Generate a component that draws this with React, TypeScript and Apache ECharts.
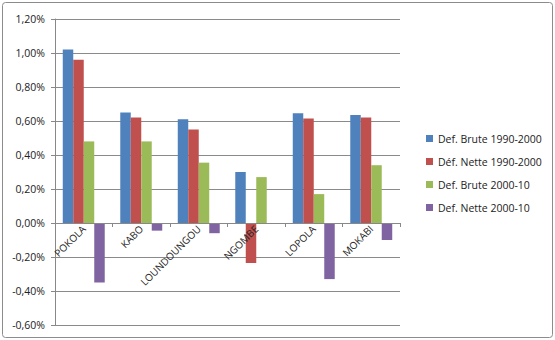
import React, { useEffect, useRef } from "react";
import * as echarts from "echarts";

const categories = ["POKOLA", "KABO", "LOUNDOUNGOU", "NGOMBE", "LOPOLA", "MOKABI"];
const seriesNames = ["Def. Brute 1990-2000", "Déf. Nette 1990-2000", "Def. Brute 2000-10", "Def. Nette 2000-10"];
const brute9000 = [1.02, 0.65, 0.61, 0.30, 0.645, 0.635];
const nette9000 = [0.96, 0.62, 0.55, -0.235, 0.615, 0.62];
const brute0010 = [0.48, 0.48, 0.355, 0.27, 0.17, 0.34];
const nette0010 = [-0.35, -0.045, -0.06, -0.005, -0.33, -0.10];
const colors = ["#4F81BD", "#C0504D", "#9BBB59", "#8064A2"];
const yMin = -0.6;
const yMax = 1.2;

export default function App() {
  const ref = useRef<HTMLDivElement>(null);
  useEffect(() => {
    if (!ref.current) return;
    const chart = echarts.init(ref.current, undefined, { renderer: "svg" });
    const data = [brute9000, nette9000, brute0010, nette0010];
    const gridTop = 19;
    const gridBottom = 15;
    const plotH = 340 - gridTop - gridBottom;
    const zeroOffset = -(plotH * (0 - yMin)) / (yMax - yMin);
    chart.setOption({
      animation: false,
      textStyle: { fontFamily: "Open Sans" },
      graphic: [
        {
          type: "rect",
          shape: { x: 2.5, y: 2.5, width: 550, height: 335, r: 3 },
          style: { fill: "none", stroke: "#8c8c8c", lineWidth: 1 },
          silent: true,
        },
      ],
      grid: { left: 55, right: 155, top: gridTop, bottom: gridBottom, containLabel: false, outerBoundsMode: "none" },
      legend: {
        orient: "vertical",
        left: 421,
        top: 128,
        itemWidth: 7,
        itemHeight: 7,
        itemGap: 12,
        icon: "rect",
        data: seriesNames,
        textStyle: { fontSize: 10.5, color: "#222", fontFamily: "Open Sans" },
      },
      xAxis: {
        type: "category",
        data: categories,
        offset: zeroOffset,
        z: 5,
        axisLine: { onZero: false, lineStyle: { color: "#888" } },
        axisTick: { show: true, lineStyle: { color: "#888" }, length: 4 },
        axisLabel: { rotate: 45, fontSize: 10, color: "#222", margin: 4, interval: 0 },
      },
      yAxis: {
        type: "value",
        min: yMin,
        max: yMax,
        interval: 0.2,
        axisLine: { show: true, lineStyle: { color: "#888" } },
        axisTick: { show: true, length: 4, lineStyle: { color: "#888" } },
        splitLine: { lineStyle: { color: "#8a8a8a" } },
        axisLabel: {
          fontSize: 10.5,
          color: "#222",
          margin: 10,
          formatter: (v: number) => v.toFixed(2).replace(".", ",") + "%",
        },
      },
      series: seriesNames.map((name, i) => ({
        name,
        type: "bar",
        data: data[i],
        itemStyle: { color: colors[i] },
        barGap: "0%",
        barCategoryGap: "27%",
      })),
    });
    return () => chart.dispose();
  }, []);
  return (
    <div
      ref={ref}
      style={{ position: "fixed", left: 0, top: 0, width: 555, height: 340, background: "#fff" }}
    />
  );
}
